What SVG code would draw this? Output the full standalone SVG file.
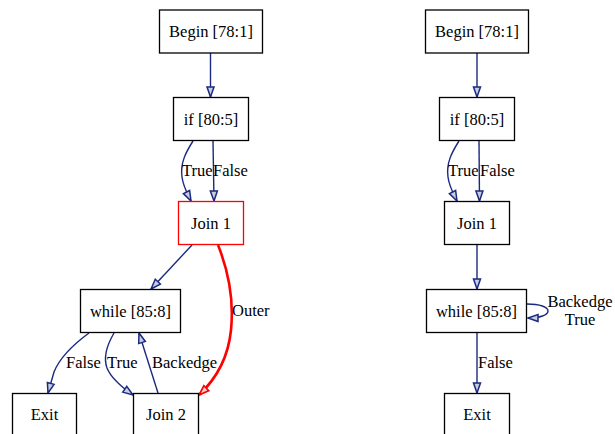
<svg xmlns="http://www.w3.org/2000/svg" width="615" height="434" viewBox="0 0 615 434">
<style>
.n{fill:#fff;stroke:#000;stroke-width:1.3}
.r{fill:#fff;stroke:#ff0000;stroke-width:1.3}
.t{font-family:'Liberation Serif','Times New Roman',serif;font-size:16.5px;fill:#000;text-anchor:middle}
.lb{font-family:'Liberation Serif','Times New Roman',serif;font-size:16.5px;fill:#000}
.e{fill:none;stroke:#1a2a80;stroke-width:1.4;marker-end:url(#a)}
.o{fill:none;stroke:#ff0000;stroke-width:2.6;marker-end:url(#ar)}
</style>
<defs>
<marker id="a" markerUnits="userSpaceOnUse" markerWidth="12" markerHeight="10" refX="10" refY="4" orient="auto" overflow="visible">
<path d="M0,0.5 L10,4 L0,7.5 Z" fill="#c8cce0" stroke="#1a2a80" stroke-width="1.5"/>
</marker>
<marker id="ar" markerUnits="userSpaceOnUse" markerWidth="12" markerHeight="10" refX="10" refY="4" orient="auto" overflow="visible">
<path d="M0,0.5 L10,4 L0,7.5 Z" fill="#ffd0d0" stroke="#ff0000" stroke-width="1.7"/>
</marker>
</defs>
<rect width="615" height="434" fill="#fff"/>
<g id="connectors">
<path class="e" d="M210.5,53 L210.5,97"/>
<path class="e" d="M193,141 C186,152 180,163 182,177 C183,186 187,193 191,201"/>
<path class="e" d="M213,141 L214,201"/>
<path class="e" d="M192,245 L151,289"/>
<path class="o" d="M218,245 C228,270 234,300 231,330 C228,360 215,380 199,395"/>
<path class="e" d="M89,333 C74,344 60,357 54,372 C52,379 50,386 48,393"/>
<path class="e" d="M114,333 C107,345 103,357 107,368 C111,378 123,388 133,395"/>
<path class="e" d="M158,393 L139,333"/>
<path class="e" d="M477,53 L477,97"/>
<path class="e" d="M459,141 C452,152 446,163 448,177 C449,186 453,193 457,201"/>
<path class="e" d="M479,141 L479.5,201"/>
<path class="e" d="M477,245 L477,289"/>
<path class="e" d="M527,304 C540,304 548,307 548,311 C548,315 540,318 528,318"/>
<path class="e" d="M477,333 L477,393"/>
<text class="lb" x="182" y="176">True</text>
<text class="lb" x="213" y="176">False</text>
<text class="lb" x="232" y="316">Outer</text>
<text class="lb" x="66" y="368">False</text>
<text class="lb" x="107" y="368">True</text>
<text class="lb" x="152" y="368">Backedge</text>
<text class="lb" x="448" y="176">True</text>
<text class="lb" x="480" y="176">False</text>
<text class="t" x="580" y="307">Backedge</text>
<text class="t" x="580" y="325">True</text>
<text class="lb" x="478" y="368">False</text>
</g>
<g id="l-begin"><rect class="n" x="159.5" y="10" width="103" height="43"/><text class="t" x="211" y="37">Begin [78:1]</text></g>
<g id="l-if"><rect class="n" x="173.5" y="97.5" width="75" height="43"/><text class="t" x="211" y="125">if [80:5]</text></g>
<g id="l-join1"><rect class="r" x="178.5" y="201.5" width="65" height="43"/><text class="t" x="211" y="229">Join 1</text></g>
<g id="l-while"><rect class="n" x="80.5" y="289.5" width="100" height="43"/><text class="t" x="130.5" y="317">while [85:8]</text></g>
<g id="l-exit"><rect class="n" x="12.5" y="393.5" width="64" height="43"/><text class="t" x="44.5" y="420">Exit</text></g>
<g id="l-join2"><rect class="n" x="133.5" y="393.5" width="65" height="43"/><text class="t" x="166" y="420">Join 2</text></g>
<g id="r-begin"><rect class="n" x="425.5" y="10" width="103" height="43"/><text class="t" x="477" y="37">Begin [78:1]</text></g>
<g id="r-if"><rect class="n" x="439.5" y="97.5" width="75" height="43"/><text class="t" x="477" y="125">if [80:5]</text></g>
<g id="r-join1"><rect class="n" x="444.5" y="201.5" width="65" height="43"/><text class="t" x="477" y="229">Join 1</text></g>
<g id="r-while"><rect class="n" x="426.5" y="289.5" width="100" height="43"/><text class="t" x="476.5" y="317">while [85:8]</text></g>
<g id="r-exit"><rect class="n" x="444.5" y="393.5" width="65" height="43"/><text class="t" x="477" y="420">Exit</text></g>
</svg>
